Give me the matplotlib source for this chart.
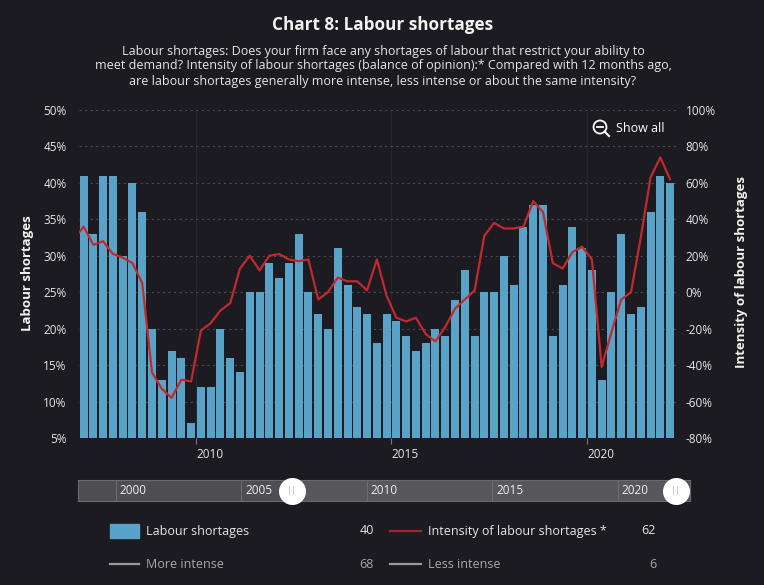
import matplotlib
matplotlib.use("Agg")
import matplotlib.pyplot as plt
from matplotlib.lines import Line2D
from matplotlib.patches import Rectangle, Ellipse
import numpy as np

plt.rcParams['font.family'] = ['Open Sans', 'DejaVu Sans']

# quarterly data, 2007Q1 .. 2022Q1 (bars dated mid-quarter)
shortages = [41, 33, 41, 41, 30, 40, 36, 20, 13, 17,
             16, 7, 12, 12, 20, 16, 14, 25, 25, 29,
             27, 29, 33, 25, 22, 20, 31, 26, 23, 22,
             18, 22, 21, 19, 17, 18, 20, 19, 24, 28,
             19, 25, 25, 30, 26, 34, 37, 37, 19, 26,
             34, 31, 28, 13, 25, 33, 22, 23, 36, 41, 40]
# intensity balance, 2006Q4 .. 2022Q1 (first point is clipped by the plot edge)
intensity = [29,
             36, 26, 28, 21, 19, 16, 5, -44, -53, -58,
             -48, -49, -21, -17, -10, -6, 13, 20, 12, 20,
             21, 18, 17, 18, -4, 0, 8, 6, 6, 1,
             18, -2, -14, -16, -14, -23, -27, -19, -9, -4,
             1, 31, 38, 35, 35, 36, 50, 44, 16, 13,
             22, 25, 18, -41, -22, -4, 0, 30, 63, 74, 62]
year_ticks = [2010, 2015, 2020]
nav_years = [2000, 2005, 2010, 2015, 2020]
legend_rows = [("Labour shortages", "40", "Intensity of labour shortages *", "62"),
               ("More intense", "68", "Less intense", "6")]

bg = '#1c1b21'
blue = '#5aa3c8'
red = '#c2292d'
txt = '#e6e6e6'

W, H = 764, 585
def fx(px):
    return px / W
def fy(py):
    return 1 - py / H

x_bar = 2007.125 + 0.25 * np.arange(len(shortages))
x_line = 2006.875 + 0.25 * np.arange(len(intensity))

fig = plt.figure(figsize=(W / 100, H / 100), dpi=100, facecolor=bg)
ax = fig.add_axes([fx(79), fy(438), 597 / W, 328 / H])
ax.set_facecolor(bg)
ax.bar(x_bar, shortages, width=0.205, color=blue, zorder=2)
ax.set_xlim(2007.008, 2022.276)
ax.set_ylim(5, 50)
ax.set_yticks(np.arange(5, 51, 5))
ax.set_yticklabels([f"{v}%" for v in range(5, 51, 5)])
ax.set_xticks(year_ticks)
ax.set_xticklabels([str(y) for y in year_ticks], ha='left')
ax.grid(axis='y', color='#4a4a52', lw=0.8, linestyle=(0, (2, 3)), zorder=0)
for yr in year_ticks:
    ax.axvline(yr, color='#27262d', lw=0.8, zorder=0)
for s in ax.spines.values():
    s.set_visible(False)
ax.tick_params(axis='y', length=0, pad=9, colors=txt, labelsize=8.5)
ax.tick_params(axis='x', length=4, width=0.8, color='#777777', pad=3,
               colors=txt, labelsize=8.5)

ax2 = ax.twinx()
ax2.plot(x_line, intensity, color=red, lw=1.6, zorder=3)
ax2.set_ylim(-80, 100)
ax2.set_yticks(np.arange(-80, 101, 20))
ax2.set_yticklabels([f"{v}%" for v in range(-80, 101, 20)])
ax2.tick_params(axis='y', length=0, pad=7, colors=txt, labelsize=8.5)
for s in ax2.spines.values():
    s.set_visible(False)

# titles
fig.text(fx(383), fy(25), "Chart 8: Labour shortages", ha='center', va='center',
         fontsize=12.3, fontweight='bold', color='#f2f2f2')
sub = ["Labour shortages: Does your firm face any shortages of labour that restrict your ability to",
       "meet demand? Intensity of labour shortages (balance of opinion):* Compared with 12 months ago,",
       "are labour shortages generally more intense, less intense or about the same intensity?"]
for i, line in enumerate(sub):
    fig.text(fx(383), fy(51 + 15 * i), line, ha='center', va='center',
             fontsize=9, color=txt)

fig.text(fx(27), fy(273), "Labour shortages", rotation=90, ha='center', va='center',
         fontsize=9.5, fontweight='bold', color='#f2f2f2')
fig.text(fx(741), fy(272), "Intensity of labour shortages", rotation=90, ha='center',
         va='center', fontsize=9.5, fontweight='bold', color='#f2f2f2')

# "Show all" button
fig.add_artist(Ellipse((fx(600), fy(127)), 13 / W, 13 / H, fill=False, ec='white',
                       lw=1.3, transform=fig.transFigure))
fig.add_artist(Line2D([fx(597), fx(603)], [fy(127), fy(127)], color='white', lw=1.3))
fig.add_artist(Line2D([fx(604.5), fx(609)], [fy(131.5), fy(136)], color='white', lw=1.5))
fig.text(fx(616), fy(128), "Show all", ha='left', va='center', fontsize=9, color='white')

# navigator
nav = fig.add_axes([fx(78), fy(501), 612 / W, 21 / H])
nav.set_facecolor('#4e4d52')
nav.set_xlim(1998.49, 2022.87)
nav.set_ylim(0, 1)
nav.axvspan(2007.02, 2022.31, color='#58575c', zorder=0)
for yr in nav_years:
    nav.axvline(yr, color='#6c6b70', lw=0.8, zorder=1)
    nav.text(yr + 0.15, 0.5, str(yr), ha='left', va='center', fontsize=8.5,
             color='#f0f0f0', zorder=2)
nav.set_xticks([])
nav.set_yticks([])
for s in nav.spines.values():
    s.set_color('#6a696e')
    s.set_linewidth(0.8)
for hx in (2007.02, 2022.31):
    nav.scatter([hx], [0.5], s=340, color='white', zorder=5, clip_on=False)
    nav.text(hx, 0.48, "||", ha='center', va='center', fontsize=6.5,
             color='#b0b0b0', zorder=6, clip_on=False)

# legend
row_y = [531, 564]
for i, (l1, v1, l2, v2) in enumerate(legend_rows):
    y = row_y[i]
    col = txt if i == 0 else '#a9a9a9'
    if i == 0:
        fig.add_artist(Rectangle((fx(110), fy(538)), 29 / W, 14 / H, color=blue,
                                 transform=fig.transFigure))
        lc = '#a3272a'
    else:
        fig.add_artist(Line2D([fx(110), fx(139)], [fy(y), fy(y)], color='#9a9a9a', lw=1.6))
        lc = '#9a9a9a'
    fig.add_artist(Line2D([fx(390), fx(421)], [fy(y), fy(y)], color=lc, lw=1.6))
    fig.text(fx(146), fy(y), l1, ha='left', va='center', fontsize=9, color=col)
    fig.text(fx(374), fy(y), v1, ha='right', va='center', fontsize=9, color=col)
    fig.text(fx(428), fy(y), l2, ha='left', va='center', fontsize=9, color=col)
    fig.text(fx(656), fy(y), v2, ha='right', va='center', fontsize=9, color=col)

fig.savefig("out.png", dpi=100, facecolor=bg)
